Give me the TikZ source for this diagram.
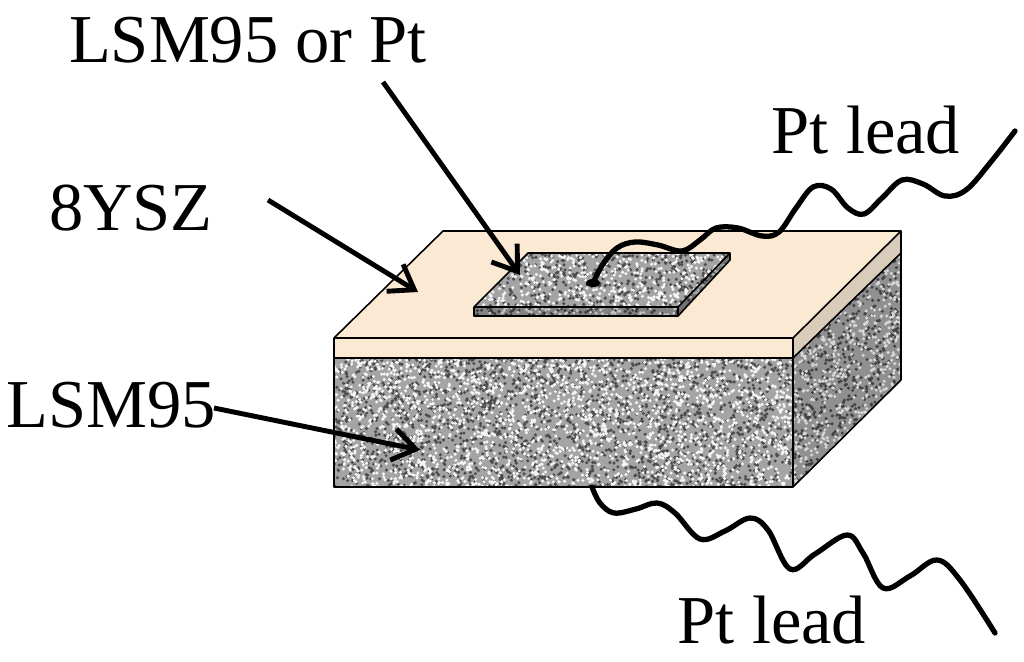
\documentclass[tikz,border=0pt]{standalone}
\usepackage{fontspec}
\setmainfont{Liberation Serif}
\usetikzlibrary{arrows.meta}
\definecolor{ysz}{HTML}{FBE9D3}
\definecolor{yszside}{HTML}{D9CCBA}
\definecolor{granite}{HTML}{A4A4A4}
\tikzset{
  lbl/.style={font=\fontsize{39}{44}\selectfont, inner sep=0pt},
  pointer/.style={line width=2.8pt, -{Straight Barb[length=13pt,width=18pt,line width=2.8pt]}},
  wire/.style={line width=3pt, line cap=round},
  edge/.style={draw=black, line width=0.9pt, line join=round},
}
\newcommand{\granitefill}[5]{%
  \fill[granite] (#1,#2) rectangle (#3,#4);
  \fill[black!70] foreach \i in {1,...,#5}{ ({#1+rnd*(#3-#1)},{#2+rnd*(#4-#2)}) circle (1.7) };
  \fill[white!92!gray] foreach \i in {1,...,#5}{ ({#1+rnd*(#3-#1)},{#2+rnd*(#4-#2)}) circle (1.7) };
}
\begin{document}
\begin{tikzpicture}[x=0.02cm,y=-0.02cm]
\pgfmathsetseed{7}
\useasboundingbox (0,0) rectangle (1024,662);
\fill[white] (0,0) rectangle (1024,662);
\coordinate (tbl) at (443,231);
\coordinate (tbr) at (901,231);
\coordinate (tfl) at (334,338);
\coordinate (tfr) at (793,338);
\coordinate (yfl) at (334,358);
\coordinate (yfr) at (793,358);
\coordinate (ybr) at (901,253);
\coordinate (bfl) at (334,487);
\coordinate (bfr) at (793,487);
\coordinate (bbr) at (901,380);
\begin{scope}
  \clip (yfl) -- (yfr) -- (bfr) -- (bfl) -- cycle;
  \granitefill{334}{358}{793}{487}{2200}
\end{scope}
\begin{scope}
  \clip (yfr) -- (ybr) -- (bbr) -- (bfr) -- cycle;
  \granitefill{793}{253}{901}{487}{800}
  \fill[black, opacity=0.12] (yfr) -- (ybr) -- (bbr) -- (bfr) -- cycle;
\end{scope}
\fill[ysz] (tfl) -- (tfr) -- (yfr) -- (yfl) -- cycle;
\fill[ysz] (tfl) -- (tbl) -- (tbr) -- (tfr) -- cycle;
\fill[yszside] (tfr) -- (tbr) -- (ybr) -- (yfr) -- cycle;
\draw[edge] (tfl) -- (tbl) -- (tbr) -- (tfr) -- cycle;
\draw[edge] (tfl) -- (yfl) -- (bfl) -- (bfr) -- (bbr) -- (tbr);
\draw[edge] (yfl) -- (yfr) -- (ybr);
\draw[edge] (tfr) -- (bfr);
\coordinate (ebl) at (528,253);
\coordinate (ebr) at (730,253);
\coordinate (efr) at (678,307);
\coordinate (efl) at (474,307);
\coordinate (efr2) at (678,316);
\coordinate (efl2) at (474,316);
\coordinate (ebr2) at (730,260);
\begin{scope}
  \clip (ebl) -- (ebr) -- (ebr2) -- (efr2) -- (efl2) -- (efl) -- cycle;
  \granitefill{474}{253}{730}{316}{600}
\end{scope}
\fill[black,opacity=0.2] (efl) -- (efr) -- (efr2) -- (efl2) -- cycle;
\fill[black,opacity=0.3] (efr) -- (ebr) -- (ebr2) -- (efr2) -- cycle;
\draw[edge] (ebl) -- (ebr) -- (efr) -- (efl) -- cycle;
\draw[edge] (efl) -- (efl2) -- (efr2) -- (ebr2) -- (ebr);
\draw[edge] (efr) -- (efr2);
\coordinate (w1s) at (593,283);
\draw[wire] plot[smooth, tension=0.6] coordinates {(593,283) (603,264) (617,248) (635,242) (658,245) (682,251) (700,240) (716,228) (738,228) (762,236) (779,232) (796,208) (813,187) (831,189) (848,208) (864,214) (882,198) (902,180) (923,184) (945,196) (966,190) (990,163) (1015,131)};
\fill (w1s) ellipse (7 and 4);
\draw[wire] plot[smooth, tension=0.6] coordinates {(592,487) (600,503) (614,513) (636,509) (657,503) (675,513) (700,539) (725,531) (750,518) (768,530) (790,569) (815,554) (847,535) (863,553) (883,588) (910,576) (937,560) (960,580) (995,633)};
\node[lbl] (lsmpt) at (248,40) {LSM95 or Pt};
\node[lbl] (ptlead1) at (866,130) {Pt lead};
\node[lbl] (ysz8) at (131,208) {8YSZ};
\node[lbl] (lsm) at (111,405) {LSM95};
\node[lbl] (ptlead2) at (772,620) {Pt lead};
\coordinate (s1) at (383,82);
\coordinate (s2) at (268,200);
\coordinate (s3) at (214,408);
\draw[pointer] (s1) -- (520,275);
\draw[pointer] (s2) -- (418,292);
\draw[pointer] (s3) -- (420,450);
\end{tikzpicture}
\end{document}
